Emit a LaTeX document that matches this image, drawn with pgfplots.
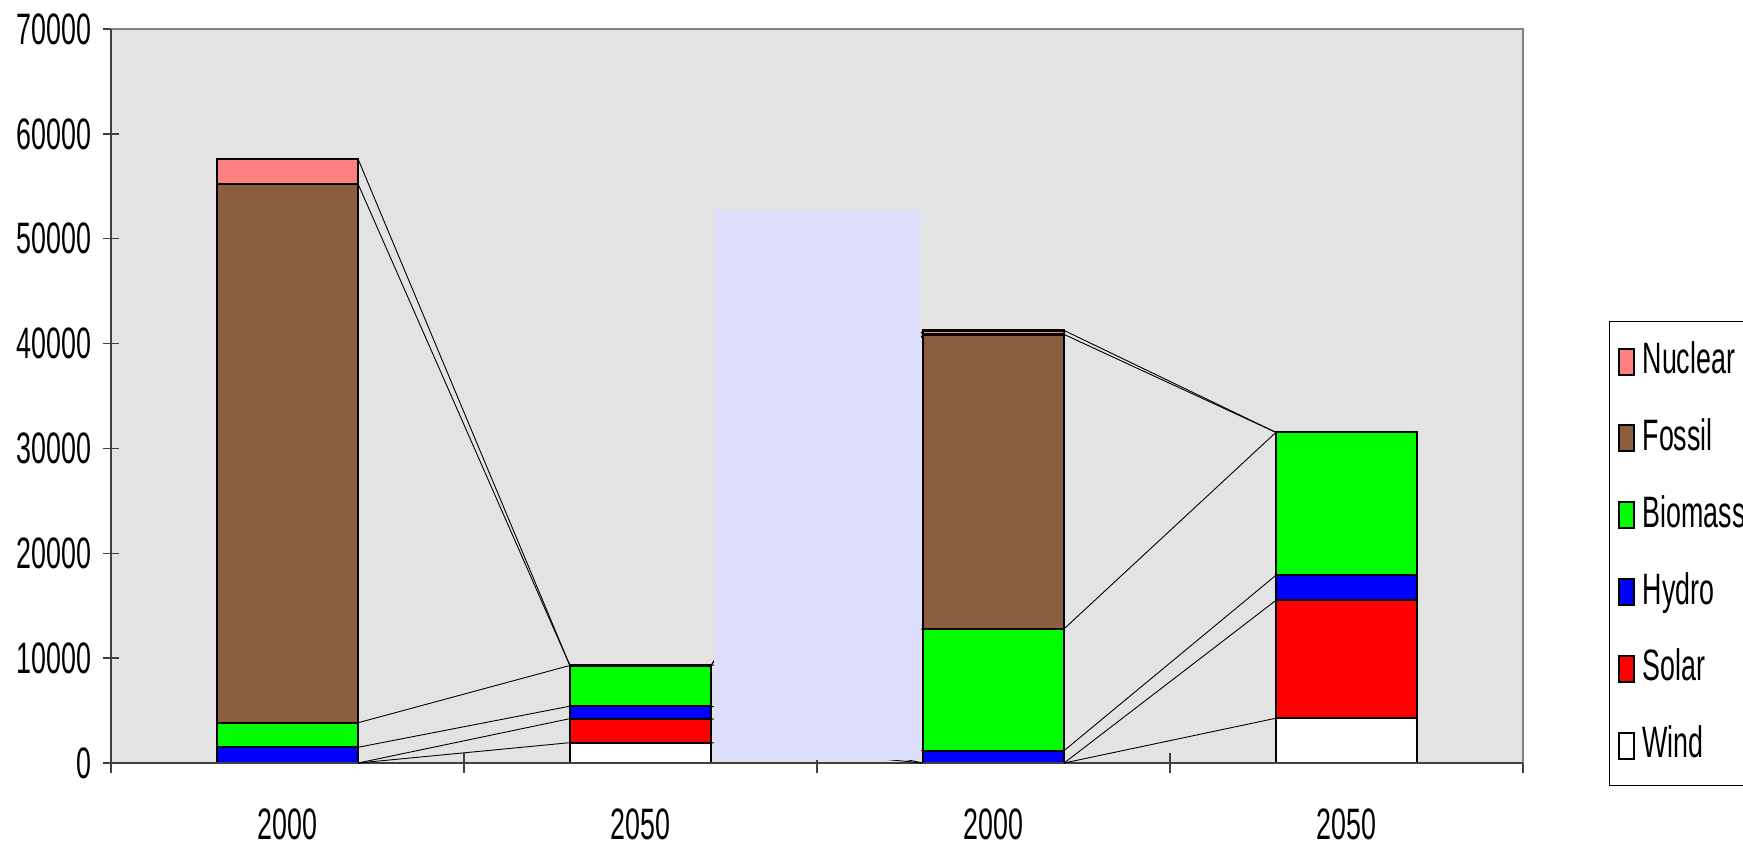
\documentclass[border=0pt]{standalone}
\usepackage{fontspec}
\setmainfont{Liberation Sans}[FakeStretch=0.61]
\usepackage{pgfplots}
\pgfplotsset{compat=1.18}
\definecolor{bggray}{HTML}{E3E3E3}
\definecolor{cnuc}{HTML}{FF8080}
\definecolor{cfos}{HTML}{8C5E40}
\definecolor{cbio}{HTML}{00FF00}
\definecolor{chyd}{HTML}{0000FF}
\definecolor{csol}{HTML}{FF0000}
\definecolor{cwin}{HTML}{FFFFFF}
\definecolor{lav}{HTML}{DDDDFC}
\definecolor{axdark}{HTML}{404040}
\pgfplotsset{legsq/.style={legend image code/.code={\draw[##1, line width=1pt] (0pt,-6.5pt) rectangle (7.5pt,6.5pt);}}}
\begin{document}
\begin{tikzpicture}
\begin{axis}[name=main, at={(0,0)}, anchor=south west,
  scale only axis, width=706pt, height=367pt,
  xmin=-0.5, xmax=3.5, ymin=0, ymax=70000,
  ybar stacked, bar width=0.4,
  axis background/.style={fill=bggray},
  axis line style={draw=black!50, line width=1.3pt},
  xtick={0,1,2,3}, xticklabels={2000,2050,2000,2050},
  minor xtick={-0.5,0.5,1.5,2.5,3.5},
  xtick pos=lower, ytick pos=left,
  major x tick style={draw=none},
  minor tick length=10pt,
  ytick={0,10000,...,70000},
  major tick length=7.5pt, tick align=center,
  tick style={axdark, line width=0.7pt},
  scaled y ticks=false,
  /pgf/number format/.cd, 1000 sep={}, assume math mode=true, /pgfplots/.cd,
  tick label style={font=\fontsize{22}{26}\selectfont},
  yticklabel style={anchor=east, inner sep=0pt, xshift=-6pt},
  xticklabel style={anchor=base, inner sep=0pt, yshift=-34.5pt},
  legend style={at={(1.061,0.602)}, anchor=north west, draw=black, fill=white,
    font=\fontsize{22}{26}\selectfont, inner xsep=4pt, inner ysep=9pt, row sep=16.4pt,
    nodes={text height=16pt, text depth=4pt, inner sep=1pt}, line width=0.5pt,
    /tikz/every odd column/.style={column sep=3pt}},
  legend cell align=left, reverse legend,
  clip=false,
  after end axis/.code={
    \draw[axdark, line width=1.1pt] (rel axis cs:0,1) -- (rel axis cs:0,0) -- (rel axis cs:1,0);
  },
]
\addplot[fill=cwin, draw=black, line width=1.1pt, legsq] coordinates {(0,0) (1,1940) (2,0) (3,4270)};
\addplot[fill=csol, draw=black, line width=1.1pt, legsq] coordinates {(0,0) (1,2290) (2,0) (3,11240)};
\addplot[fill=chyd, draw=black, line width=1.1pt, legsq] coordinates {(0,1500) (1,1190) (2,1180) (3,2390)};
\addplot[fill=cbio, draw=black, line width=1.1pt, legsq] coordinates {(0,2340) (1,3880) (2,11620) (3,13630)};
\addplot[fill=cfos, draw=black, line width=1.1pt, legsq] coordinates {(0,51370) (1,0) (2,28070) (3,0)};
\addplot[fill=cnuc, draw=black, line width=1.1pt, legsq] coordinates {(0,2380) (1,0) (2,380) (3,0)};
\legend{Wind,Solar,Hydro,Biomass,Fossil,Nuclear}
\end{axis}
\begin{axis}[at={(main.south west)}, anchor=south west,
  scale only axis, width=706pt, height=367pt,
  xmin=-0.5, xmax=3.5, ymin=0, ymax=70000, hide axis, clip=false]
% series lines 2000 -> 2050 (first group)
\addplot[black, line width=0.45pt] coordinates {(0.2,0) (0.8,1940)};
\addplot[black, line width=0.45pt] coordinates {(0.2,0) (0.8,4230)};
\addplot[black, line width=0.45pt] coordinates {(0.2,1500) (0.8,5420)};
\addplot[black, line width=0.45pt] coordinates {(0.2,3840) (0.8,9300)};
\addplot[black, line width=0.45pt] coordinates {(0.2,55210) (0.8,9300)};
\addplot[black, line width=0.45pt] coordinates {(0.2,57590) (0.8,9300)};
% series lines 2050 -> 2000 (hidden behind the shape)
\addplot[black, line width=0.45pt] coordinates {(1.2,1940) (1.8,0)};
\addplot[black, line width=0.45pt] coordinates {(1.2,4230) (1.8,0)};
\addplot[black, line width=0.45pt] coordinates {(1.2,5420) (1.8,1180)};
\addplot[black, line width=0.45pt] coordinates {(1.2,9300) (1.8,12800)};
\addplot[black, line width=0.45pt] coordinates {(1.2,9300) (1.8,40870)};
\addplot[black, line width=0.45pt] coordinates {(1.2,9300) (1.8,41250)};
% series lines 2000 -> 2050 (second group)
\addplot[black, line width=0.45pt] coordinates {(2.2,0) (2.8,4270)};
\addplot[black, line width=0.45pt] coordinates {(2.2,0) (2.8,15510)};
\addplot[black, line width=0.45pt] coordinates {(2.2,1180) (2.8,17900)};
\addplot[black, line width=0.45pt] coordinates {(2.2,12800) (2.8,31530)};
\addplot[black, line width=0.45pt] coordinates {(2.2,40870) (2.8,31530)};
\addplot[black, line width=0.45pt] coordinates {(2.2,41250) (2.8,31530)};
% lavender shape
\addplot[fill=lav, draw=none] coordinates {(1.207,250) (1.207,52700) (1.795,52700) (1.795,250)} -- cycle;
\end{axis}
\pgfresetboundingbox
\path[use as bounding box] (main.south west) ++(-55.5pt,-41.5pt) rectangle ++(871.5pt,423pt);
\end{tikzpicture}
\end{document}
